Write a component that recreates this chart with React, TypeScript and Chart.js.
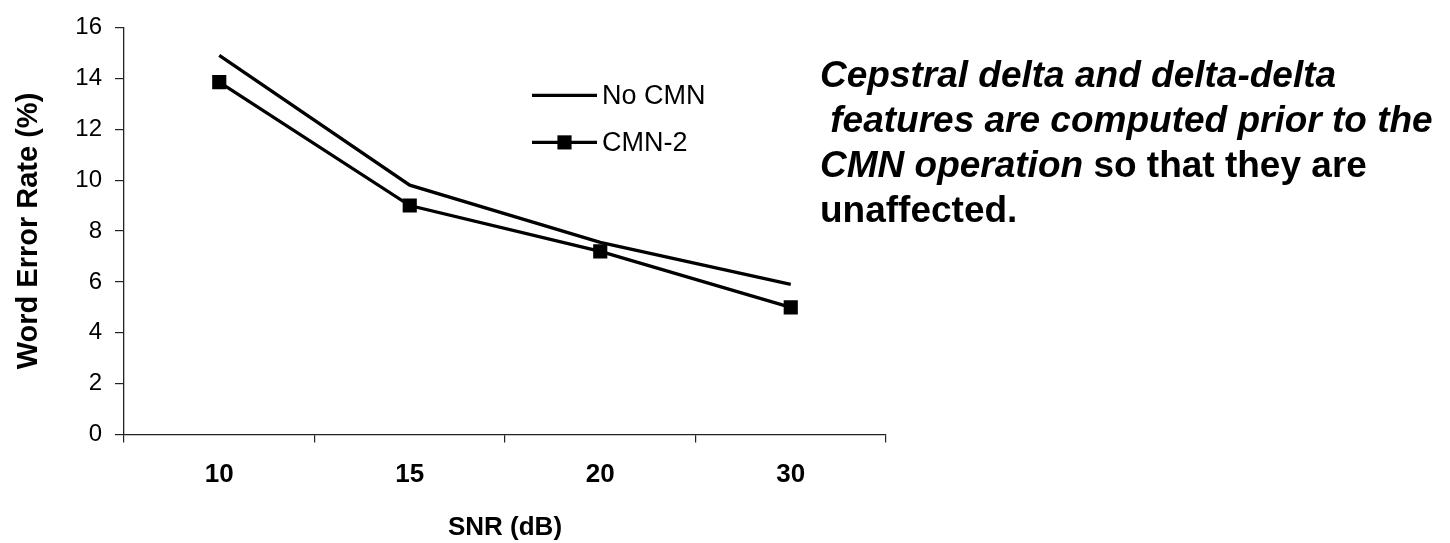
import React, { useEffect, useRef } from "react";
import { Chart, registerables } from "chart.js";

Chart.register(...registerables);

// ---- data ----
const categories = ["10", "15", "20", "30"];
const noCmnValues = [14.9, 9.8, 7.55, 5.9];
const cmn2Values = [13.85, 9.0, 7.2, 5.0];
const seriesNames = ["No CMN", "CMN-2"];
const yMin = 0;
const yMax = 16;
const yStep = 2;
const xTitle = "SNR (dB)";
const yTitle = "Word Error Rate (%)";
const noteItalic1 = "Cepstral delta and delta-delta";
const noteItalic2 = " features are computed prior to the";
const noteItalic3 = "CMN operation";
const noteNormal3 = " so that they are";
const noteNormal4 = "unaffected.";

const FONT = "'Liberation Sans', Arial, Helvetica, sans-serif";

const insideLegend = {
  id: "insideLegend",
  afterDatasetsDraw(chart: any) {
    const { ctx, chartArea } = chart;
    const x0 = chartArea.left + 408;
    const x1 = chartArea.left + 473;
    const rows = [chartArea.top + 68, chartArea.top + 115];
    chart.data.datasets.forEach((ds: any, i: number) => {
      const y = rows[i];
      ctx.save();
      ctx.strokeStyle = ds.borderColor;
      ctx.lineWidth = ds.borderWidth;
      ctx.beginPath();
      ctx.moveTo(x0, y);
      ctx.lineTo(x1, y);
      ctx.stroke();
      if (ds.pointRadius > 0) {
        const s = Math.SQRT1_2 * ds.pointRadius;
        const cx = (x0 + x1) / 2;
        ctx.fillStyle = ds.pointBackgroundColor;
        ctx.fillRect(cx - s, y - s, 2 * s, 2 * s);
      }
      ctx.fillStyle = "#000";
      ctx.font = `27px ${FONT}`;
      ctx.textBaseline = "middle";
      ctx.textAlign = "left";
      ctx.fillText(ds.label, x1 + 5, y + 1);
      ctx.restore();
    });
  },
};

export default function App() {
  const canvasRef = useRef<HTMLCanvasElement | null>(null);

  useEffect(() => {
    document.body.style.margin = "0";
    document.body.style.background = "#fff";
    const canvas = canvasRef.current;
    if (!canvas) return;
    const chart = new Chart(canvas, {
      type: "line",
      data: {
        labels: categories,
        datasets: [
          {
            label: seriesNames[0],
            data: noCmnValues,
            borderColor: "#000",
            borderWidth: 3.3,
            pointRadius: 0,
            pointHoverRadius: 0,
            tension: 0,
            fill: false,
          },
          {
            label: seriesNames[1],
            data: cmn2Values,
            borderColor: "#000",
            borderWidth: 3.3,
            pointStyle: "rect",
            pointRadius: 10,
            pointBackgroundColor: "#000",
            pointBorderColor: "#000",
            pointBorderWidth: 0,
            tension: 0,
            fill: false,
          },
        ],
      },
      options: {
        responsive: false,
        animation: false,
        events: [],
        layout: { padding: { top: 24, right: 564, left: 0, bottom: 0 } },
        plugins: {
          legend: { display: false },
          tooltip: { enabled: false },
          title: { display: false },
        },
        scales: {
          x: {
            type: "category",
            offset: true,
            grid: {
              offset: true,
              drawOnChartArea: false,
              drawTicks: true,
              tickLength: 8,
              color: "#222",
              lineWidth: 1.2,
            },
            border: { display: true, color: "#222", width: 1.3 },
            ticks: {
              color: "#000",
              font: { family: FONT, size: 26, weight: "bold" },
              padding: 17,
              maxRotation: 0,
              autoSkip: false,
            },
            title: {
              display: true,
              text: xTitle,
              color: "#000",
              font: { family: FONT, size: 26, weight: "bold" },
              padding: { top: 0, bottom: 0 },
            },
            afterFit: (scale: any) => {
              scale.height = 108.4;
            },
          },
          y: {
            min: yMin,
            max: yMax,
            grid: {
              drawOnChartArea: false,
              drawTicks: true,
              tickLength: 9,
              color: "#222",
              lineWidth: 1.2,
            },
            border: { display: true, color: "#222", width: 1.3 },
            ticks: {
              stepSize: yStep,
              color: "#000",
              font: { family: FONT, size: 24 },
              padding: 13,
            },
            title: {
              display: true,
              text: yTitle,
              color: "#000",
              font: { family: FONT, size: 29, weight: "bold" },
              padding: { top: 12, bottom: 0 },
            },
            afterFit: (scale: any) => {
              scale.width = 124;
            },
          },
        },
      },
      plugins: [insideLegend],
    });
    return () => chart.destroy();
  }, []);

  const noteStyle: React.CSSProperties = {
    position: "absolute",
    left: 820,
    top: 52,
    fontFamily: FONT,
    fontWeight: "bold",
    fontSize: 37,
    lineHeight: "45px",
    color: "#000",
    whiteSpace: "pre",
  };

  return (
    <div style={{ position: "absolute", left: 0, top: 0, width: 1450, height: 543, background: "#fff" }}>
      <canvas ref={canvasRef} width={1450} height={543} style={{ display: "block" }} />
      <div style={noteStyle}>
        <div style={{ fontStyle: "italic" }}>{noteItalic1}</div>
        <div style={{ fontStyle: "italic" }}>{noteItalic2}</div>
        <div>
          <span style={{ fontStyle: "italic" }}>{noteItalic3}</span>
          {noteNormal3}
        </div>
        <div>{noteNormal4}</div>
      </div>
    </div>
  );
}
